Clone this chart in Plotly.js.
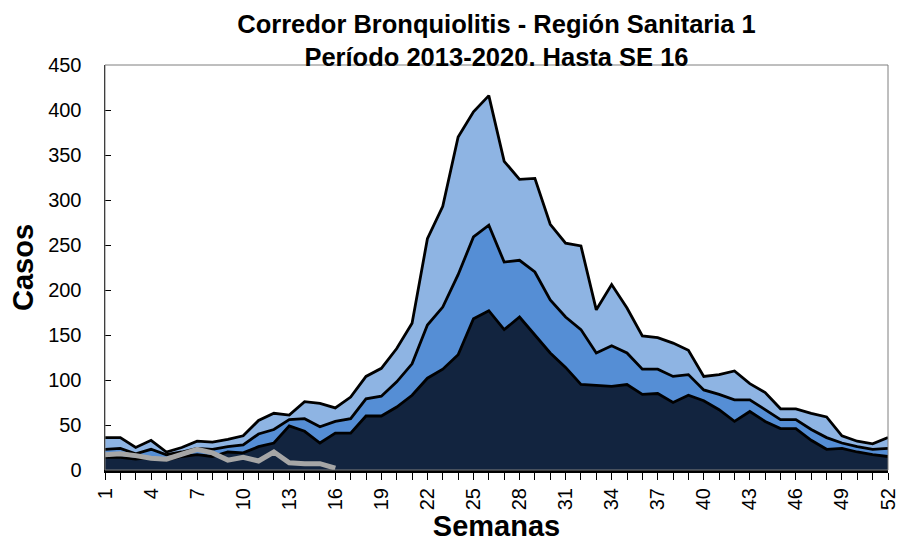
<!DOCTYPE html>
<html>
<head>
<meta charset="utf-8">
<script src="https://cdn.plot.ly/plotly-3.0.1.min.js"></script>
<style>html,body{margin:0;padding:0;background:#fff;}#chart{width:900px;height:542px;}</style>
</head>
<body>
<div id="chart"></div>
<script>
const weeks = [1,2,3,4,5,6,7,8,9,10,11,12,13,14,15,16,17,18,19,20,21,22,23,24,25,26,27,28,29,30,31,32,33,34,35,36,37,38,39,40,41,42,43,44,45,46,47,48,49,50,51,52];
const weekLabels = ['1','','','4','','','7','','','10','','','13','','','16','','','19','','','22','','','25','','','28','','','31','','','34','','','37','','','40','','','43','','','46','','','49','','','52'];
const lowerZone = [14,14,12,14,11,15,17,15,20,19,26,30,49,43,30,41,41,60,60,70,83,102,112,128,168,177,156,170,150,130,114,95,94,93,95,84,85,75,83,77,67,54,65,54,46,46,33,23,24,20,17,15];
const medianZone = [23,24,18,23,17,20,24,23,26,28,40,45,56,57,48,54,57,79,82,98,118,161,181,217,259,272,231,233,220,189,170,156,130,138,130,112,112,104,106,89,84,78,78,67,56,56,45,36,30,26,23,24];
const upperZone = [36,36,25,33,20,25,32,31,34,38,55,63,61,76,74,69,81,104,113,135,163,257,293,370,398,416,343,323,324,273,252,249,178,206,180,149,147,141,133,104,106,110,96,86,68,68,63,59,38,32,29,36];
const weeks2020 = [1,2,3,4,5,6,7,8,9,10,11,12,13,14,15,16];
const cases2020 = [17,18,16,13,12,17,23,19,11,14,10,20,8,7,7,2];

const traces = [
  {x: weeks, y: upperZone, type:'scatter', mode:'lines', fill:'tozeroy', fillcolor:'#8EB4E3', line:{color:'#000', width:2.8}, name:'Alerta'},
  {x: weeks, y: medianZone, type:'scatter', mode:'lines', fill:'tozeroy', fillcolor:'#558ED5', line:{color:'#000', width:2.8}, name:'Seguridad'},
  {x: weeks, y: lowerZone, type:'scatter', mode:'lines', fill:'tozeroy', fillcolor:'#12243F', line:{color:'#000', width:2.8}, name:'Éxito'},
  {x: weeks2020, y: cases2020, type:'scatter', mode:'lines', line:{color:'#A6A6A6', width:5}, name:'2020'}
];

const layout = {
  width:900, height:542,
  margin:{l:105, r:12, t:65, b:72},
  paper_bgcolor:'#fff', plot_bgcolor:'#fff',
  showlegend:false,
  font:{family:'Liberation Sans, Arial, sans-serif', color:'#000'},
  title:{text:'<b>Corredor Bronquiolitis - Región Sanitaria 1<br>Período 2013-2020. Hasta SE 16</b>', font:{size:25.5, color:'#000'}, x:0.5, xref:'paper', y:0.939, yref:'container', yanchor:'top'},
  xaxis:{range:[1,52], tickmode:'array', tickvals:weeks, ticktext:weekLabels, tickangle:-90, ticks:'outside', ticklen:7, tickcolor:'#000', tickfont:{size:20}, showgrid:false, zeroline:false, showline:true, linecolor:'#000', linewidth:3,
    title:{text:'<b>Semanas</b>', font:{size:29}, standoff:2}},
  yaxis:{range:[0,450], dtick:50, ticks:'inside', ticklen:6, tickcolor:'#000', tickfont:{size:20}, ticklabelstandoff:18, showgrid:false, zeroline:false, showline:true, linecolor:'#000', linewidth:1.5,
    title:{text:'<b>Casos</b>', font:{size:29}, standoff:6}},
  shapes:[{type:'rect', xref:'paper', yref:'paper', x0:0, x1:1, y0:0, y1:1, line:{color:'#7f7f7f', width:1}, layer:'above'}]
};
Plotly.newPlot('chart', traces, layout, {displayModeBar:false, staticPlot:true});
</script>
</body>
</html>
